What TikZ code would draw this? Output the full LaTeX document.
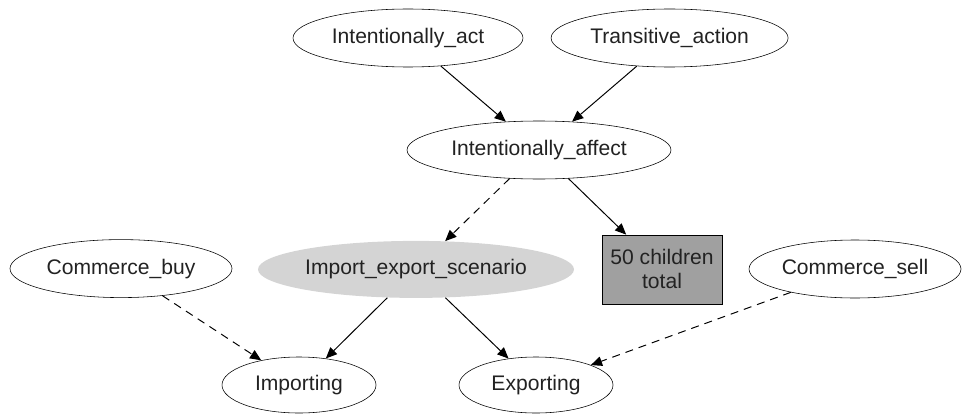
\documentclass[tikz,border=0pt]{standalone}
\usepackage{fontspec}
\setmainfont{Liberation Sans}
\usepackage{tikz}
\usetikzlibrary{arrows.meta}
\usetikzlibrary{shapes.geometric}

\definecolor{framegray}{HTML}{D4D4D4}
\definecolor{totalgray}{HTML}{A0A0A0}
\definecolor{inkgray}{HTML}{222222}

\begin{document}
\begin{tikzpicture}[
		frame/.style={ellipse, draw, inner sep=0pt, minimum height=1.45cm, text=inkgray},
		focus/.style={frame, draw=none, fill=framegray},
		count/.style={rectangle, draw, fill=totalgray, inner sep=0pt, align=center,
			minimum width=3cm, minimum height=1.725cm, text=inkgray},
		inherit/.style={-{Triangle[length=2.8mm,width=2.4mm]}, line width=0.7pt},
		uses/.style={inherit, dash pattern=on 2mm off 1.5mm},
		every node/.style={font=\fontsize{15}{17}\selectfont}
	]
		\useasboundingbox (0,0) rectangle (24.05,10.325);
	
		\node[frame, minimum width=5.75cm] (act) at (10.2,9.375) {Intentionally\_act};
		\node[frame, minimum width=5.925cm] (trans) at (16.74,9.375) {Transitive\_action};
		\node[frame, minimum width=6.6cm] (affect) at (13.475,6.575) {Intentionally\_affect};
		\node[focus, minimum width=7.9cm, minimum height=1.425cm] (ies) at (10.4,3.59) {Import\_export\_scenario};
		\node[count] (total) at (16.55,3.59) {50 children\\total};
		\node[frame, minimum width=5.55cm] (buy) at (3.025,3.61) {Commerce\_buy};
		\node[frame, minimum width=5.3cm] (sell) at (21.375,3.6) {Commerce\_sell};
		\node[frame, minimum width=3.85cm, minimum height=1.4cm] (imp) at (7.475,0.7) {Importing};
		\node[frame, minimum width=3.85cm, minimum height=1.4cm] (exp) at (13.4,0.7) {Exporting};
		
		\draw [inherit] (act) -- (affect);
		\draw [inherit] (trans) -- (affect);
		\draw [uses] (affect) -- (ies);
		\draw [inherit] (affect) -- (total);
		\draw [inherit] (ies) -- (imp);
		\draw [inherit] (ies) -- (exp);
		\draw [uses] (buy) -- (imp);
		\draw [uses] (sell) -- (exp);
	\end{tikzpicture}
\end{document}
